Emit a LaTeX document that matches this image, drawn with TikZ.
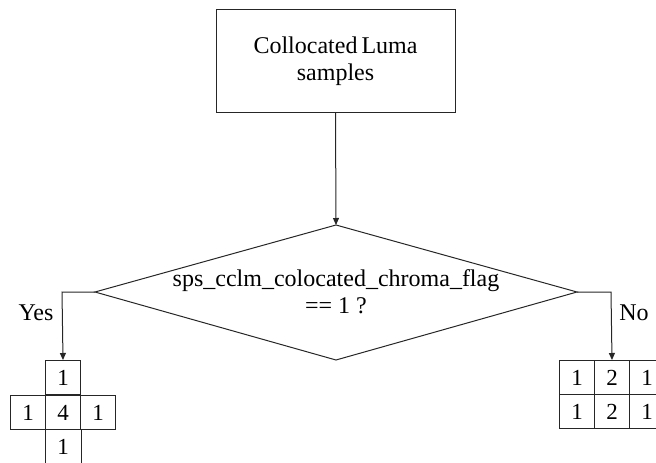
\documentclass[tikz,border=0pt]{standalone}
\usepackage{fontspec}
\setmainfont{Liberation Serif}
\usetikzlibrary{shapes.geometric,arrows.meta}
\begin{document}
\begin{tikzpicture}[x=1pt,y=-1pt,
  line/.style={draw=black!85,line width=1pt},
  arr/.style={line,-{Triangle[length=7pt,width=6pt]}},
  txt/.style={font=\fontsize{24}{27}\selectfont},
  cell/.style={line,minimum width=35pt,minimum height=34pt,inner sep=0pt,anchor=north west,font=\fontsize{23}{24}\selectfont}]
\useasboundingbox (0,0) rectangle (656,463);
\node[line,txt,minimum width=239pt,minimum height=103pt,align=center] (box) at (335.5,61) {Collocated\,Luma\\samples};
\coordinate (dtop) at (336,225);
\coordinate (dl) at (95,292);
\coordinate (dr) at (577,292);
\coordinate (db) at (336,360);
\draw[line] (dtop) -- (dr) -- (db) -- (dl) -- cycle;
\node[txt,align=center] (cond) at (336,292) {sps\_cclm\_colocated\_chroma\_flag\\== 1 ?};
\draw[arr] (box.south) -- (dtop);
% left grid
\node[cell] (l1) at (45,360) {1};
\node[cell] (l2) at (10,395) {1};
\node[cell] (l3) at (45,395) {4};
\node[cell] (l4) at (80,395) {1};
\node[cell,draw=none] (l5) at (45,429) {1};
\draw[line] (l5.north west) -- ++(0,40);
\draw[line] (l5.north east) -- ++(0,40);
% right grid
\node[cell] (r1) at (559,360) {1};
\node[cell] (r2) at (594,360) {2};
\node[cell] (r3) at (629,360) {1};
\node[cell] (r4) at (559,394) {1};
\node[cell] (r5) at (594,394) {2};
\node[cell] (r6) at (629,394) {1};
\coordinate (lc) at (62,292);
\coordinate (rc) at (611,292);
\draw[arr] (dl) -- (lc) -- (l1.north);
\draw[arr] (dr) -- (rc) -- (r2.north);
\node[font=\fontsize{24}{26}\selectfont] (yes) at (36,313) {Yes};
\node[font=\fontsize{24}{26}\selectfont] (no) at (634,313) {No};
\end{tikzpicture}
\end{document}
